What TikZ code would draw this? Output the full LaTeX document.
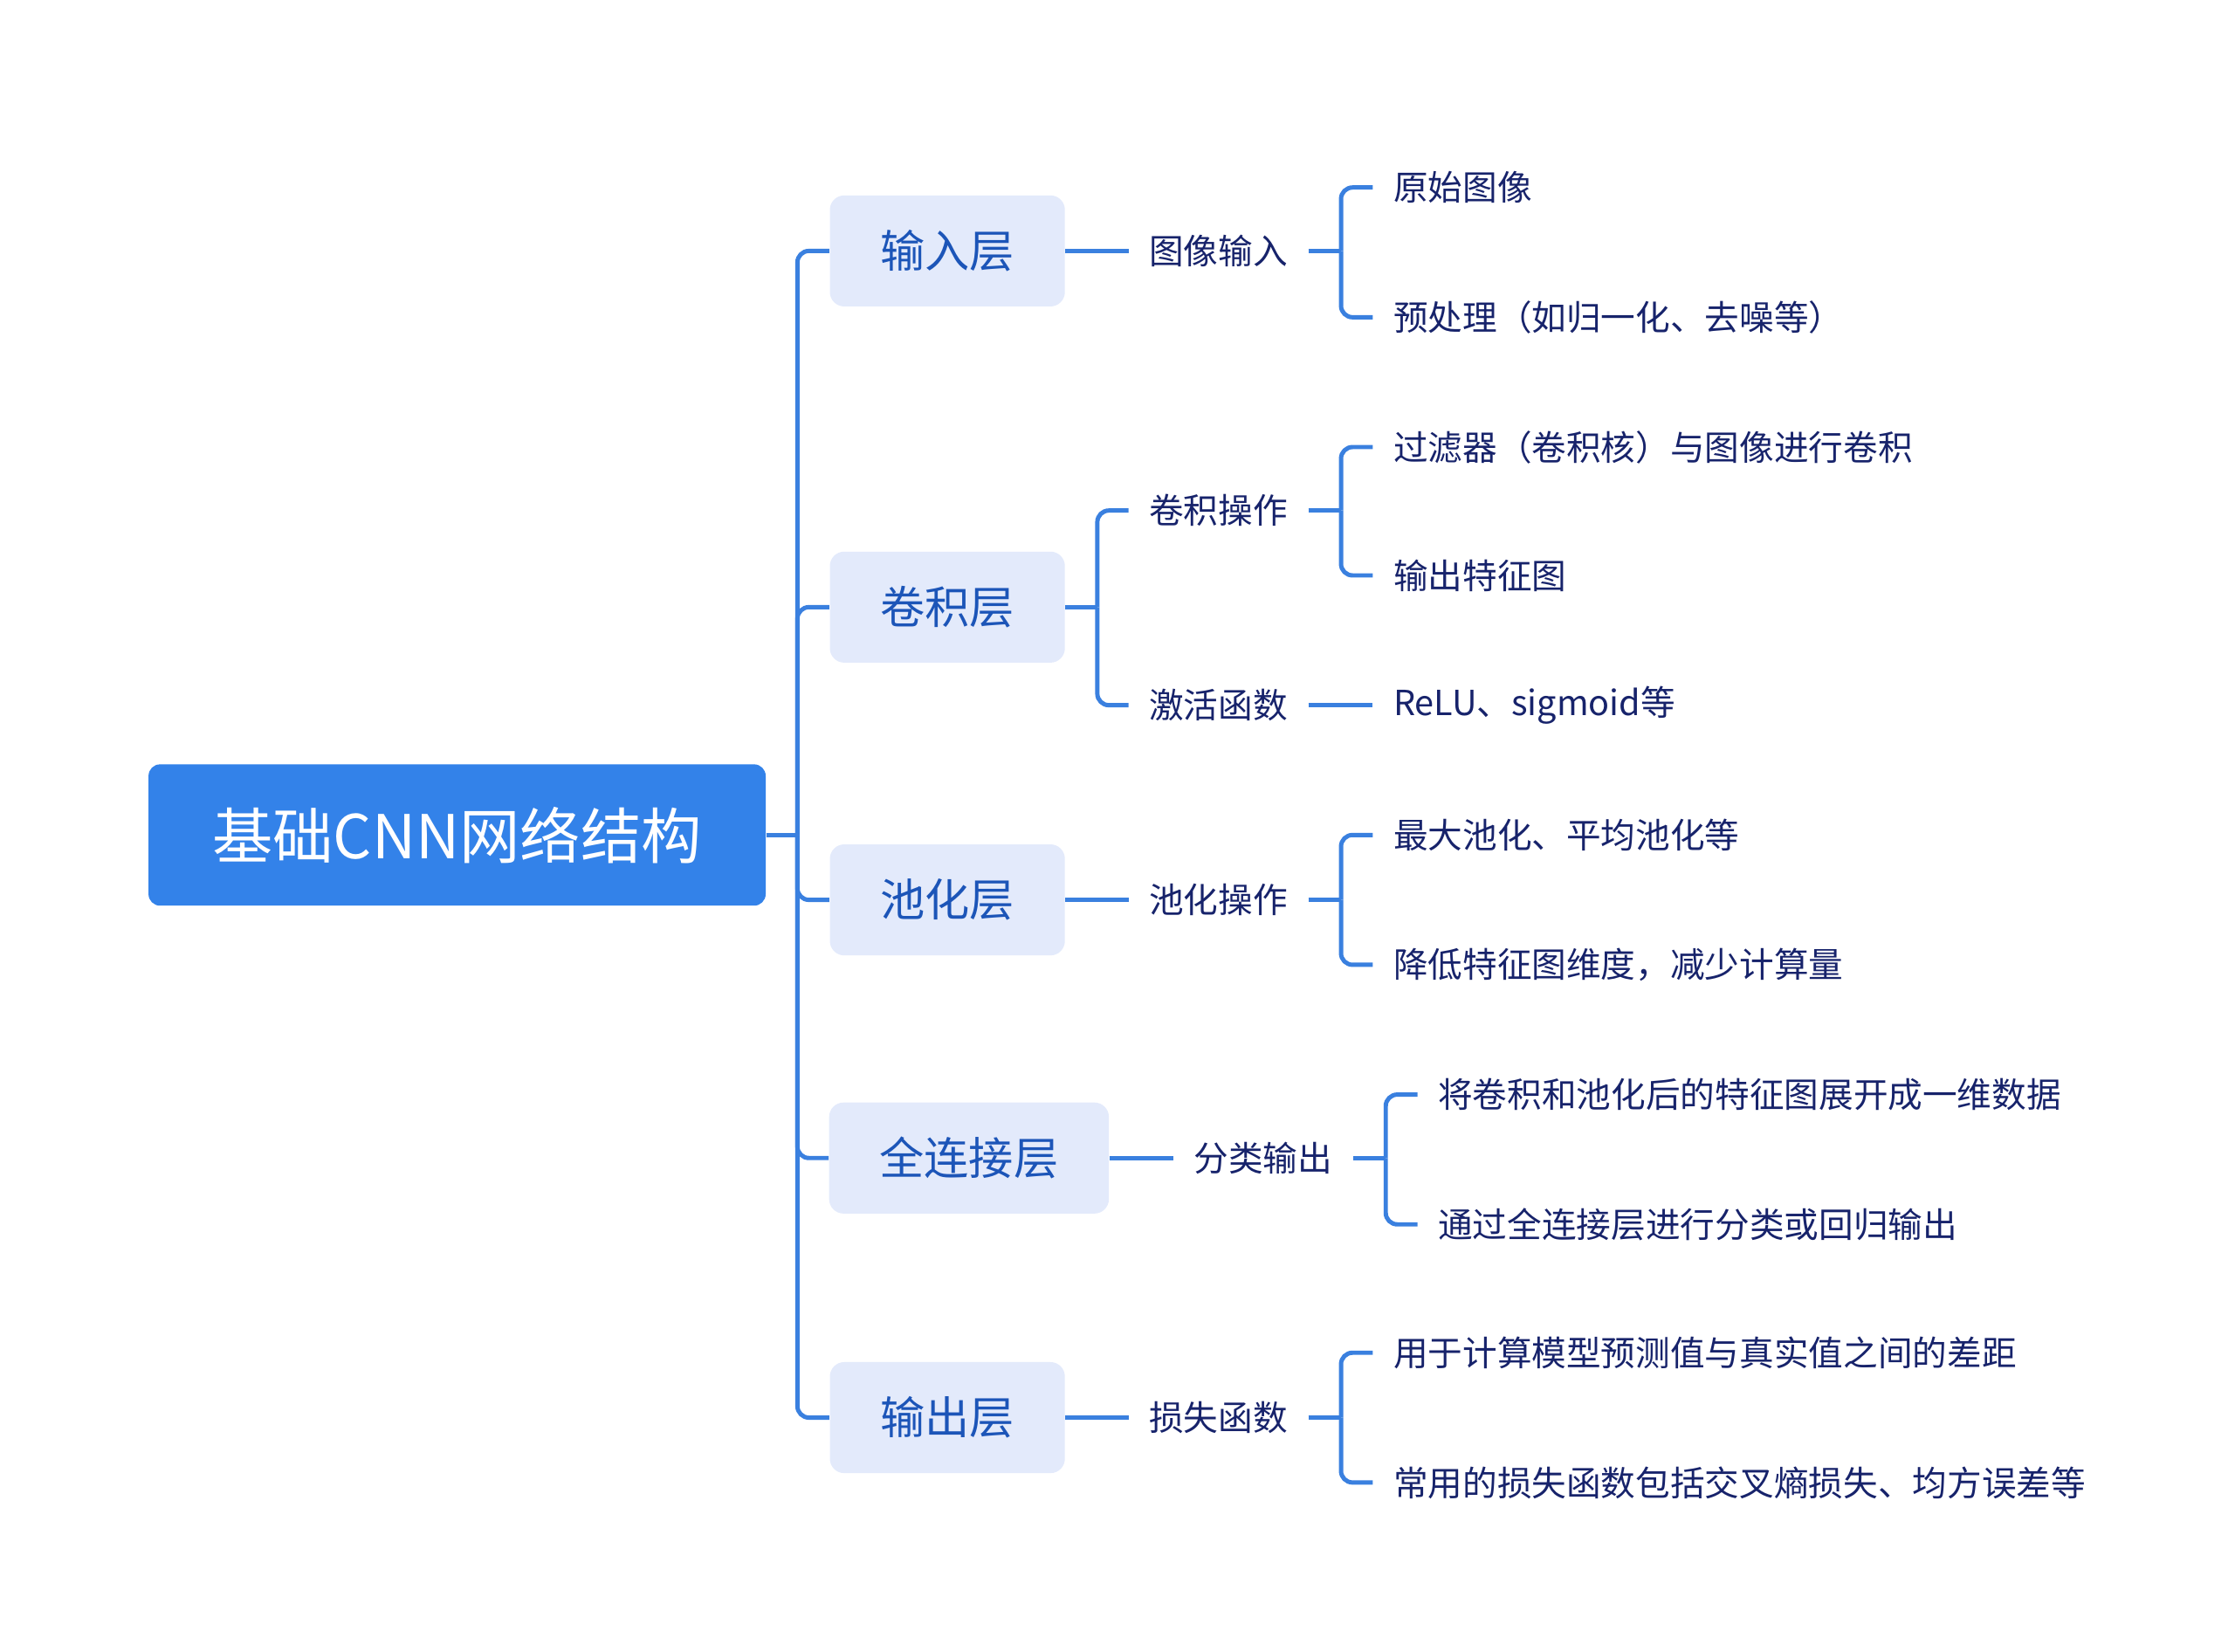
\documentclass[tikz,border=0pt]{standalone}
\usepackage{fontspec}
\setmainfont{Noto Sans CJK SC}
\usetikzlibrary{positioning,calc}
\definecolor{linkblue}{HTML}{3A80DF}
\definecolor{rootblue}{HTML}{3382E9}
\definecolor{layerfill}{HTML}{E3EAFB}
\definecolor{layertext}{HTML}{1C55B8}
\definecolor{navy}{HTML}{17236B}
\tikzset{
	rootbox/.style={rectangle,rounded corners=4pt,fill=rootblue,text=white,minimum height=49pt,minimum width=214pt,font=\fontsize{21}{24}\selectfont},
	layerbox/.style={rectangle,rounded corners=5pt,fill=layerfill,text=layertext,minimum height=38.5pt,inner xsep=17.5pt,font=\fontsize{15.5}{18}\selectfont},
	item/.style={inner xsep=7pt,inner ysep=2pt,text=navy,font=\fontsize{12}{14}\selectfont},
	leaf/.style={item,anchor=west},
	link/.style={color=linkblue,line width=1.5pt,rounded corners=4pt}
}
\begin{document}
\begin{tikzpicture}[x=0.5pt,y=-0.5pt]
		\useasboundingbox (0,0) rectangle (1550,1145);
		
		\node[rootbox] (root) at (317,579) {基础CNN网络结构};
		\node[layerbox] (in) at (657,174) {输入层};
		\node[layerbox] (conv) at (657,421) {卷积层};
		\node[layerbox] (pool) at (657,624) {池化层};
		\node[layerbox] (fc) at (672,803) {全连接层};
		\node[layerbox] (out) at (657,983) {输出层};
		
		\coordinate (trunk) at (553,579);
		\draw[link] (root.east) -- (trunk);
		\foreach \n in {in,conv,pool,fc,out}
			\draw[link] (trunk) |- (\n.west);
		
		% input layer
		\node[item] (imgin) at (845,174) {图像输入};
		\node[leaf] (raw) at (952,130) {原始图像};
		\node[leaf] (pre) at (952,220) {预处理（如归一化、去噪等）};
		\coordinate (b1) at (930,174);
		\draw[link] (in.east) -- (imgin.west);
		\draw[link] (imgin.east) -- (b1);
		\draw[link] (b1) |- (raw.west);
		\draw[link] (b1) |- (pre.west);
		
		% convolution layer
		\node[item] (convop) at (845,354) {卷积操作};
		\node[item] (act) at (845,489) {激活函数};
		\node[leaf] (filt) at (952,310) {过滤器（卷积核）与图像进行卷积};
		\node[leaf] (fmap) at (952,399) {输出特征图};
		\node[leaf] (relu) at (952,489) {ReLU、sigmoid等};
		\coordinate (b2) at (761,421);
		\coordinate (b3) at (930,354);
		\draw[link] (conv.east) -- (b2);
		\draw[link] (b2) |- (convop.west);
		\draw[link] (b2) |- (act.west);
		\draw[link] (convop.east) -- (b3);
		\draw[link] (b3) |- (filt.west);
		\draw[link] (b3) |- (fmap.west);
		\draw[link] (act.east) -- (relu.west);
		
		% pooling layer
		\node[item] (poolop) at (845,624) {池化操作};
		\node[leaf] (maxp) at (952,579) {最大池化、平均池化等};
		\node[leaf] (dimr) at (952,669) {降低特征图维度，减少计算量};
		\coordinate (b4) at (930,624);
		\draw[link] (pool.east) -- (poolop.west);
		\draw[link] (poolop.east) -- (b4);
		\draw[link] (b4) |- (maxp.west);
		\draw[link] (b4) |- (dimr.west);
		
		% fully connected layer
		\node[item] (cls) at (876,803) {分类输出};
		\node[leaf] (flat) at (983,759) {将卷积和池化后的特征图展开成一维数据};
		\node[leaf] (reg) at (983,849) {通过全连接层进行分类或回归输出};
		\coordinate (b5) at (961,803);
		\draw[link] (fc.east) -- (cls.west);
		\draw[link] (cls.east) -- (b5);
		\draw[link] (b5) |- (flat.west);
		\draw[link] (b5) |- (reg.west);
		
		% output layer
		\node[item] (loss) at (845,983) {损失函数};
		\node[leaf] (gap) at (952,938) {用于计算模型预测值与真实值之间的差距};
		\node[leaf] (ce) at (952,1028) {常用的损失函数包括交叉熵损失、均方误差等};
		\coordinate (b6) at (930,983);
		\draw[link] (out.east) -- (loss.west);
		\draw[link] (loss.east) -- (b6);
		\draw[link] (b6) |- (gap.west);
		\draw[link] (b6) |- (ce.west);
		
	\end{tikzpicture}
\end{document}
